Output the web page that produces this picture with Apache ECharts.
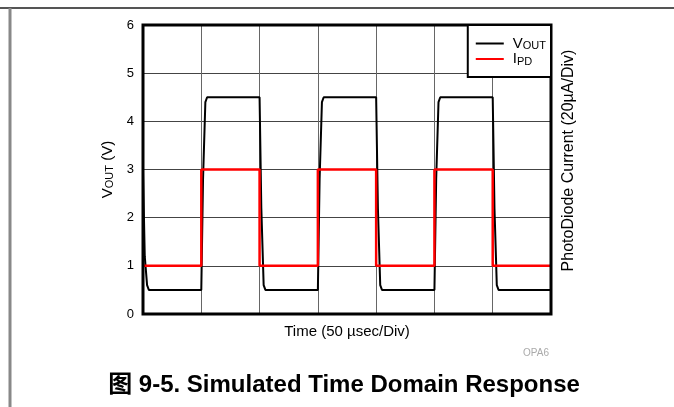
<!DOCTYPE html>
<html>
<head>
<meta charset="utf-8">
<script src="https://cdn.jsdelivr.net/npm/echarts@6/dist/echarts.min.js"></script>
<style>
  html, body { margin: 0; padding: 0; background: #fff; }
  #chart { width: 674px; height: 407px; }
</style>
</head>
<body>
<div id="chart"></div>
<script>
// time in divisions (50 usec/div)
const voutT = [0, 0.03, 0.07, 0.1, 1.0, 1.03, 1.07, 1.1, 2.0, 2.03, 2.07, 2.1, 3.0, 3.03, 3.07, 3.1,
  4.0, 4.03, 4.07, 4.1, 5.0, 5.03, 5.07, 5.1, 6.0, 6.03, 6.07, 6.1, 7.0];
const voutV = [2.95, 1.2, 0.6, 0.5, 0.5, 2.8, 4.4, 4.5, 4.5, 2.2, 0.6, 0.5, 0.5, 2.8, 4.4, 4.5,
  4.5, 2.2, 0.6, 0.5, 0.5, 2.8, 4.4, 4.5, 4.5, 2.2, 0.6, 0.5, 0.5];

// photodiode current, same grid (20 uA/div)
const ipdT = [0, 1, 1, 2, 2, 3, 3, 4, 4, 5, 5, 6, 6, 7];
const ipdV = [1, 1, 3, 3, 1, 1, 3, 3, 1, 1, 3, 3, 1, 1];

const yTicks = [0, 1, 2, 3, 4, 5, 6];

const FONT = '"Liberation Sans", Arial, "Noto Sans CJK SC", sans-serif';

const zip = (t, v) => t.map((x, i) => [x, v[i]]);

// subscript style for V_OUT / I_PD
const SUB = { fontFamily: FONT, fontSize: 11, verticalAlign: 'bottom', padding: [5, 0, 0, 0] };

const chart = echarts.init(document.getElementById('chart'));

chart.setOption({
  animation: false,
  textStyle: { fontFamily: FONT },
  grid: {
    left: 143, right: 123, top: 25, bottom: 93,
    show: true, borderColor: '#000', borderWidth: 3, z: 5
  },
  title: [
    {
      text: '图 9-5. Simulated Time Domain Response',
      left: 339, top: 368, textAlign: 'center',
      textStyle: { fontFamily: FONT, fontSize: 24, fontWeight: 'bold', color: '#000' }
    },
    {
      text: 'OPA6',
      right: 120, top: 343,
      textStyle: { fontFamily: FONT, fontSize: 10, fontWeight: 'normal', color: '#aaa' }
    }
  ],
  legend: {
    data: ['VOUT', 'IPD'],
    orient: 'vertical',
    right: 123, top: 25,
    backgroundColor: '#fff',
    borderColor: '#000', borderWidth: 2, borderRadius: 0,
    padding: [11, 5, 10, 8],
    itemGap: 0,
    itemWidth: 28, itemHeight: 2,
    icon: 'rect',
    z: 10,
    formatter: (name) => name === 'VOUT' ? 'V{s|OUT}' : 'I{s|PD}',
    textStyle: {
      fontFamily: FONT, fontSize: 15, color: '#000', padding: [0, 0, 0, 4],
      rich: { s: SUB }
    }
  },
  xAxis: {
    type: 'value', min: 0, max: 7, interval: 1,
    name: 'Time (50 µsec/Div)', nameLocation: 'middle', nameGap: 10,
    nameTextStyle: { fontFamily: FONT, fontSize: 15, color: '#000', verticalAlign: 'top' },
    axisLine: { show: false }, axisTick: { show: false }, axisLabel: { show: false },
    splitLine: { show: true, lineStyle: { color: '#666', width: 1 } }
  },
  yAxis: [
    {
      type: 'value', min: 0, max: 6, interval: 1,
      name: 'V{s|OUT} (V)', nameLocation: 'middle', nameGap: 26, nameRotate: 90,
      nameTextStyle: {
        fontFamily: FONT, fontSize: 15, color: '#000',
        rich: { s: SUB }
      },
      axisLine: { show: false }, axisTick: { show: false },
      axisLabel: {
        margin: 9, fontFamily: FONT, fontSize: 13, color: '#000',
        formatter: (v) => yTicks.includes(v) ? String(v) : ''
      },
      splitLine: { show: true, lineStyle: { color: '#444', width: 1 } }
    },
    {
      type: 'value', min: 0, max: 6, interval: 1, position: 'right',
      name: 'PhotoDiode Current (20µA/Div)', nameLocation: 'middle', nameGap: 10, nameRotate: 90,
      nameTextStyle: { fontFamily: FONT, fontSize: 16, color: '#000', padding: [0, 0, 0, 18] },
      axisLine: { show: false }, axisTick: { show: false }, axisLabel: { show: false },
      splitLine: { show: false }
    }
  ],
  graphic: [
    { type: 'line', shape: { x1: 0, y1: 8, x2: 674, y2: 8 }, style: { stroke: '#555', lineWidth: 2 } },
    { type: 'line', shape: { x1: 10, y1: 8, x2: 10, y2: 407 }, style: { stroke: '#888', lineWidth: 3 } }
  ],
  series: [
    {
      name: 'VOUT', type: 'line', data: zip(voutT, voutV),
      symbol: 'none', smooth: false, z: 3,
      itemStyle: { color: '#000' },
      lineStyle: { color: '#000', width: 2 }
    },
    {
      name: 'IPD', type: 'line', yAxisIndex: 1, data: zip(ipdT, ipdV),
      symbol: 'none', z: 4,
      itemStyle: { color: '#ff0000' },
      lineStyle: { color: '#ff0000', width: 2.5 }
    }
  ]
});
</script>
</body>
</html>
